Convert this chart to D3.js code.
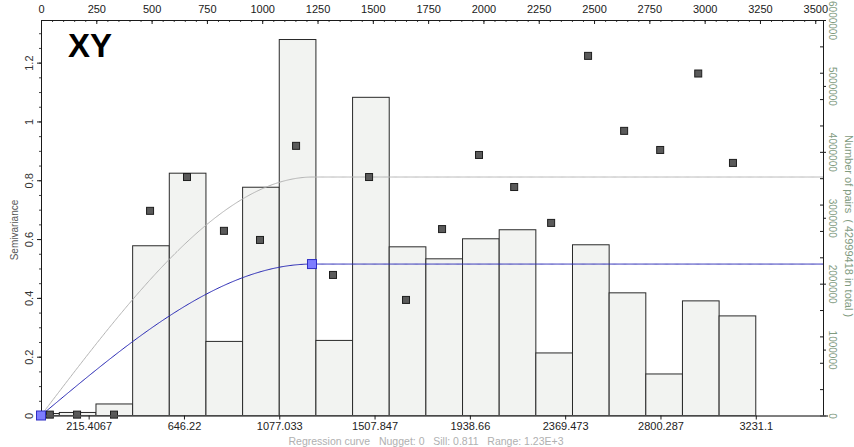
<!DOCTYPE html>
<html>
<head>
<meta charset="utf-8">
<script src="https://cdn.jsdelivr.net/npm/d3@7"></script>
<style>
  body { margin: 0; background: #fff; }
  svg { font-family: "Liberation Sans", Arial, sans-serif; }
</style>
</head>
<body>
<svg width="854" height="447"></svg>
<script>
// lag classes (width of one lag class in distance units)
var lagStep = 165.697;
var pairCounts = [30000, 46000, 175000, 2575000, 3676000, 1124000, 3463000, 5704000, 1139000, 4827000,
                  2559000, 2377000, 2681000, 2818000, 949000, 2590000, 1861000, 630000, 1739000, 1511000];

// experimental semivariogram points
var pointLags = [40, 163, 330, 493, 660, 827, 990, 1153, 1320, 1483,
                 1650, 1813, 1980, 2139, 2306, 2473, 2636, 2799, 2971, 3128];
var semivariance = [0.003, 0.003, 0.003, 0.696, 0.811, 0.628, 0.597, 0.917, 0.478, 0.811,
                    0.393, 0.634, 0.886, 0.777, 0.655, 1.223, 0.968, 0.903, 1.163, 0.859];

// models (spherical)
var regression = { nugget: 0, sill: 0.811, range: 1230 };
var fitted = { nugget: 0, sill: 0.515, range: 1225 };

var topTicks = d3.range(0, 3501, 250);
var bottomTicks = [215.4067, 646.22, 1077.033, 1507.847, 1938.66, 2369.473, 2800.287, 3231.1];
var leftTicks = [0, 0.2, 0.4, 0.6, 0.8, 1, 1.2];
var rightTicks = [0, 1000000, 2000000, 3000000, 4000000, 5000000, 6000000];
var totalPairs = 42999418;

var svg = d3.select("svg"),
    plotLeft = 41, plotRight = 823, plotTop = 20, plotBottom = 415.5;

var x = d3.scaleLinear().domain([0, 3535]).range([plotLeft, plotRight]);
var y = d3.scaleLinear().domain([0, 1.345]).range([plotBottom, plotTop]);
var yPairs = d3.scaleLinear().domain([0, 6000000]).range([plotBottom, plotTop]);

function spherical(m, h) {
  if (h >= m.range) return m.nugget + m.sill;
  var r = h / m.range;
  return m.nugget + m.sill * (1.5 * r - 0.5 * r * r * r);
}

// histogram of pairs
svg.append("g").selectAll("rect")
  .data(pairCounts)
  .enter().append("rect")
  .attr("x", function(d, i) { return x(Math.max(0, (i - 0.5) * lagStep)); })
  .attr("width", function(d, i) { return x((i + 0.5) * lagStep) - x(Math.max(0, (i - 0.5) * lagStep)); })
  .attr("y", function(d) { return yPairs(d); })
  .attr("height", function(d) { return plotBottom - yPairs(d); })
  .style("fill", "#f2f3f1")
  .style("stroke", "#2a2a2a")
  .style("stroke-width", 1);

// model curves
var hs = d3.range(0, 3535, 5).concat([3535]);
var line = d3.line()
  .x(function(d) { return x(d[0]); })
  .y(function(d) { return y(d[1]); });

svg.append("path")
  .attr("d", line(hs.map(function(h) { return [h, spherical(regression, h)]; })))
  .style("fill", "none").style("stroke", "#b4b4b4").style("stroke-width", 1);

svg.append("path")
  .attr("d", line(hs.map(function(h) { return [h, spherical(fitted, h)]; })))
  .style("fill", "none").style("stroke", "#2727b4").style("stroke-width", 1);

// semivariance points
svg.append("g").selectAll("rect")
  .data(pointLags)
  .enter().append("rect")
  .attr("x", function(d) { return x(d) - 3.5; })
  .attr("y", function(d, i) { return y(semivariance[i]) - 3.5; })
  .attr("width", 7).attr("height", 7)
  .style("fill", "#5a5a5a").style("stroke", "#1e1e1e");

// axes
function styleAxis(g, color, size) {
  g.select(".domain").style("stroke", "#1a1a1a");
  g.selectAll(".tick line").style("stroke", "#1a1a1a");
  g.selectAll("text").style("font-size", (size || 11) + "px").style("fill", color).attr("font-family", null);
}

// top
svg.append("g").attr("transform", "translate(0," + plotTop + ")")
  .call(d3.axisTop(x).tickValues(d3.range(0, 3535, 50)).tickSizeInner(-2).tickSizeOuter(0).tickFormat(""))
  .call(function(g) { g.select(".domain").remove(); g.selectAll("line").style("stroke", "#444"); });
svg.append("g").attr("transform", "translate(0," + plotTop + ")")
  .call(d3.axisTop(x).tickValues(topTicks).tickSizeInner(-4).tickSizeOuter(0).tickPadding(7).tickFormat(d3.format("d")))
  .call(function(g) { styleAxis(g, "#1a1a1a"); });

// left
svg.append("g").attr("transform", "translate(" + plotLeft + ",0)")
  .call(d3.axisLeft(y).tickValues(d3.range(0, 1.34, 0.05)).tickSizeInner(2).tickSizeOuter(0).tickFormat(""))
  .call(function(g) { g.select(".domain").remove(); g.selectAll("line").style("stroke", "#444"); });
svg.append("g").attr("transform", "translate(" + plotLeft + ",0)")
  .call(d3.axisLeft(y).tickValues(leftTicks).tickSizeInner(4).tickSizeOuter(0).tickFormat(d3.format("")))
  .call(function(g) {
    styleAxis(g, "#333");
    g.selectAll("text")
      .attr("x", null).attr("dy", null).attr("text-anchor", "middle")
      .attr("transform", "translate(-8,0) rotate(-90)");
  });

svg.append("text")
  .attr("transform", "translate(18,230) rotate(-90)")
  .attr("text-anchor", "middle")
  .style("font-size", "10px").style("fill", "#555")
  .text("Semivariance");

// right
svg.append("g").attr("transform", "translate(" + plotRight + ",0)")
  .call(d3.axisRight(yPairs).tickValues(d3.range(0, 6000001, 400000)).tickSizeInner(-3).tickSizeOuter(0).tickFormat(""))
  .call(function(g) { g.select(".domain").style("stroke", "#1a1a1a"); g.selectAll("line").style("stroke", "#1a1a1a"); });
svg.append("g").attr("transform", "translate(" + plotRight + ",0)")
  .call(d3.axisRight(yPairs).tickValues(rightTicks).tickSizeInner(3).tickSizeOuter(0).tickFormat(d3.format("d")))
  .call(function(g) {
    styleAxis(g, "#7f9b7f", 10);
    g.selectAll("text")
      .attr("x", null).attr("dy", null).attr("text-anchor", "middle")
      .attr("transform", "translate(6,0) rotate(90)");
  });

svg.append("text")
  .attr("transform", "translate(845,226) rotate(90)")
  .attr("text-anchor", "middle")
  .attr("xml:space", "preserve")
  .style("font-size", "11px").style("fill", "#7f9b7f")
  .text("Number of pairs  ( " + totalPairs + " in total )");

// bottom
svg.append("g").attr("transform", "translate(0," + plotBottom + ")")
  .call(d3.axisBottom(x).tickValues(bottomTicks).tickSizeInner(4).tickSizeOuter(0).tickPadding(3).tickFormat(function(d) { return d; }))
  .call(function(g) {
    styleAxis(g, "#222");
    g.select(".domain").attr("d", "M" + plotLeft + ",0.5H" + (plotRight + 5)).style("stroke", "#555").style("stroke-width", 1.5);
  });

// fitted model handles
svg.append("g").selectAll("rect")
  .data([[0, 0], [fitted.range, fitted.sill]])
  .enter().append("rect")
  .attr("x", function(d) { return x(d[0]) - 4.5; })
  .attr("y", function(d) { return y(d[1]) - 4.5; })
  .attr("width", 9).attr("height", 9)
  .style("fill", "#7d7dff").style("stroke", "#2f2fc4");

svg.append("text")
  .attr("x", 426).attr("y", 445)
  .attr("text-anchor", "middle")
  .attr("xml:space", "preserve")
  .style("font-size", "10.5px").style("fill", "#b0b0b0")
  .text("Regression curve   Nugget: " + regression.nugget + "   Sill: " + regression.sill + "   Range: 1.23E+3");

svg.append("text")
  .attr("x", 68).attr("y", 57)
  .style("font-size", "33px").style("font-weight", "bold").style("fill", "#000")
  .text("XY");
</script>
</body>
</html>
